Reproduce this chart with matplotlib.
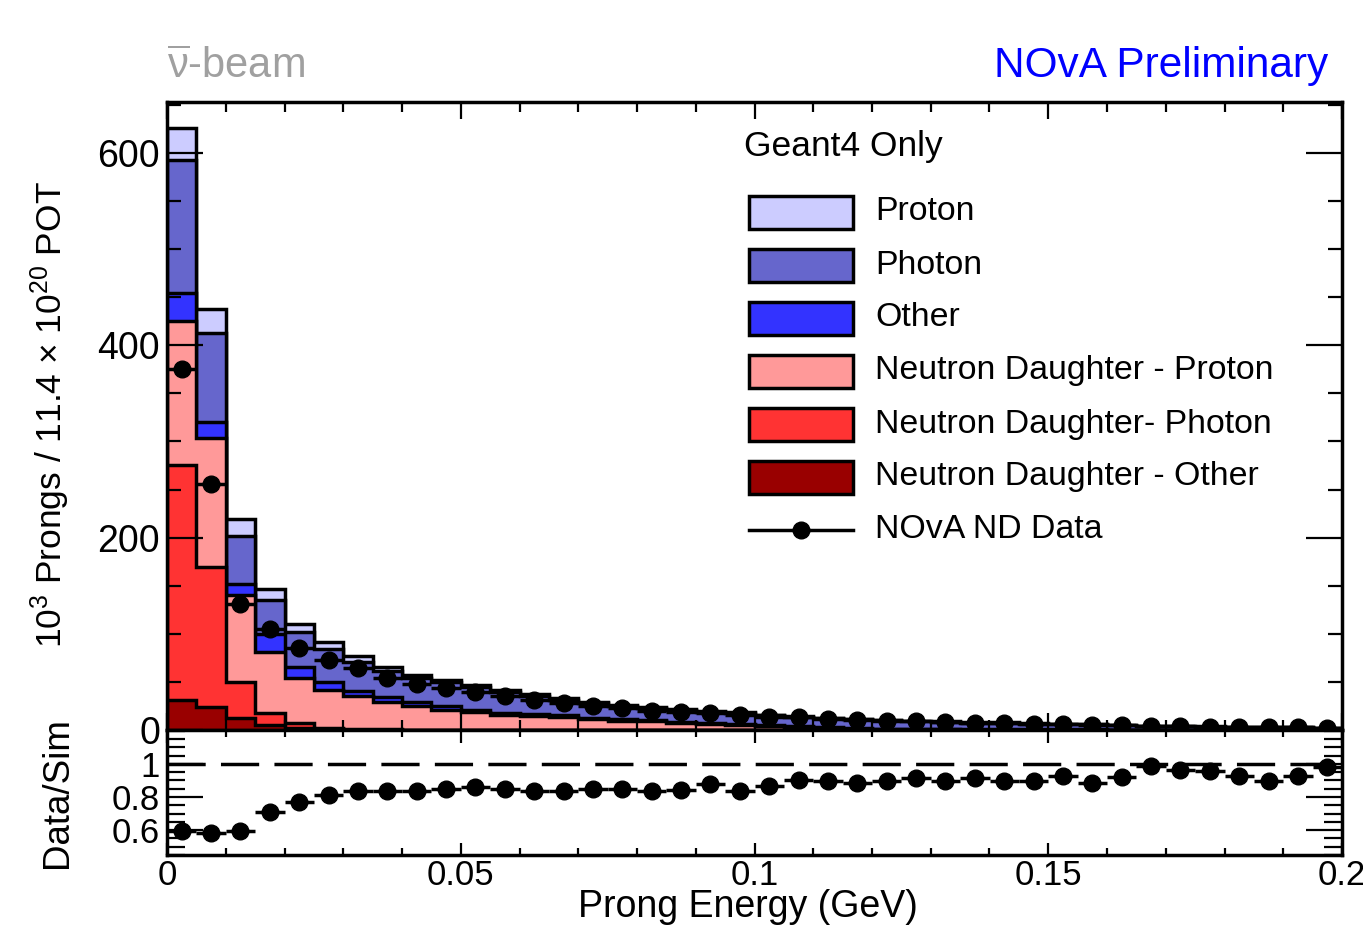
import numpy as np
import matplotlib
matplotlib.use("Agg")
import matplotlib.pyplot as plt
from matplotlib.ticker import MultipleLocator, FixedLocator, FormatStrFormatter
from matplotlib.patches import Rectangle
from matplotlib.lines import Line2D

plt.rcParams['font.family'] = ['Liberation Sans', 'DejaVu Sans']
plt.rcParams['mathtext.fontset'] = 'custom'
plt.rcParams['mathtext.rm'] = 'Liberation Sans'
plt.rcParams['mathtext.it'] = 'Liberation Sans:italic'
plt.rcParams['mathtext.bf'] = 'Liberation Sans:bold'
plt.rcParams['mathtext.sf'] = 'Liberation Sans'

# ---------------- data ----------------
bin_edges = np.linspace(0.0, 0.2, 41)

nd_other = [31, 24, 12, 4.7, 2, 1, 0.5, 0.3, 0.2, 0.1, 0.1, 0.1, 0.1, 0.1, 0.1, 0.1, 0.1, 0.05, 0.05,
            0, 0, 0, 0, 0, 0, 0, 0, 0, 0, 0, 0, 0, 0, 0, 0, 0, 0, 0, 0, 0]
nd_photon = [245, 146, 38, 13.3, 5, 1.5, 0.7, 0.3, 0.2, 0.2, 0.1, 0.1, 0.1, 0.1, 0.1, 0.1, 0.05, 0.05,
             0, 0, 0, 0, 0, 0, 0, 0, 0, 0, 0, 0, 0, 0, 0, 0, 0, 0, 0, 0, 0, 0]
nd_proton = [149, 134, 90, 63, 47.5, 39.5, 34.3, 28.9, 24.6, 21, 18.3, 15.8, 14.8, 13.4, 11.3, 9.6, 8.85, 7.2,
             6.0, 5.0, 4.0, 3.0, 2.2, 1.5, 1.0, 0.8, 0.6, 0.5, 0.4, 0.35, 0.3, 0.25, 0.2, 0.2, 0.15, 0.15,
             0.1, 0.1, 0.1, 0.1]
other = [29, 16, 12, 19, 11.5, 8, 5.5, 5, 4, 3.2, 2.5, 2, 1.8, 1.6, 1.4, 1.3, 1.2, 1.1,
         1.0, 0.9, 0.8, 0.7, 0.6, 0.6, 0.5, 0.5, 0.4, 0.4, 0.35, 0.3, 0.3, 0.3, 0.25, 0.2, 0.2, 0.2,
         0.2, 0.15, 0.15, 0.15]
photon = [139, 93, 50, 35, 36, 34, 30, 26.5, 25, 25, 23.3, 21.5, 18.4, 16.2, 15.1, 14, 12.6, 12.2,
          12.0, 11.9, 10.5, 10.0, 9.5, 9.1, 8.7, 8.0, 7.5, 6.8, 6.7, 6.05, 5.5, 5.25, 4.6, 3.8, 3.5, 3.1,
          2.95, 2.85, 2.4, 2.05]
proton = [33, 25, 17, 12, 8, 7, 6, 4, 3, 2.5, 2.2, 2, 1.8, 1.6, 1.5, 1.4, 1.2, 1.1,
          1.0, 0.9, 0.8, 0.7, 0.6, 0.6, 0.5, 0.5, 0.4, 0.4, 0.35, 0.3, 0.3, 0.3, 0.25, 0.2, 0.2, 0.2,
          0.2, 0.15, 0.15, 0.15]
nd_data = [375, 256, 131, 105, 85, 73, 64, 54.5, 47.5, 44, 40, 35, 31, 27.8, 25, 22.5, 20, 19, 17.5, 15.6,
           14.0, 13.0, 11.6, 10.5, 9.6, 9.0, 8.0, 7.4, 7.0, 6.3, 5.9, 5.4, 4.9, 4.4, 3.9, 3.5, 3.2, 2.9,
           2.6, 2.4]
ratio = [0.596, 0.584, 0.594, 0.707, 0.768, 0.815, 0.836, 0.836, 0.836, 0.846,
         0.860, 0.846, 0.836, 0.836, 0.846, 0.846, 0.836, 0.844, 0.877, 0.836,
         0.867, 0.900, 0.897, 0.887, 0.897, 0.918, 0.897, 0.918, 0.897, 0.897,
         0.928, 0.887, 0.922, 0.990, 0.963, 0.955, 0.928, 0.897, 0.928, 0.980]

layer_names = ["Neutron Daughter - Other", "Neutron Daughter- Photon", "Neutron Daughter - Proton",
               "Other", "Photon", "Proton"]
layer_colors = ["#990000", "#ff3333", "#ff9999", "#3333ff", "#6666cc", "#ccccff"]
layers = [nd_other, nd_photon, nd_proton, other, photon, proton]

# ---------------- figure ----------------
W, H = 1363, 925
fig = plt.figure(figsize=(W / 100, H / 100), dpi=100)


def fx(p):
    return p / W


def fy(p):
    return 1 - p / H


LW = 2.5
MS = 12
ax = fig.add_axes([fx(167), fy(730), (1342 - 167) / W, (730 - 102) / H])
axr = fig.add_axes([fx(167), fy(855), (1342 - 167) / W, (855 - 730) / H])

centers = 0.5 * (bin_edges[:-1] + bin_edges[1:])
half = 0.5 * (bin_edges[1] - bin_edges[0])

cum = np.cumsum(np.array(layers, dtype=float), axis=0)
for i in reversed(range(len(layers))):
    ax.stairs(cum[i], bin_edges, baseline=0, fill=True, facecolor=layer_colors[i],
              edgecolor='black', linewidth=LW, zorder=1)

ax.errorbar(centers, nd_data, xerr=half, fmt='o', color='black', ms=MS,
            elinewidth=LW, capsize=0, zorder=5)

ax.set_xlim(0, 0.2)
ax.set_ylim(0, 653)
ax.xaxis.set_major_locator(MultipleLocator(0.05))
ax.xaxis.set_minor_locator(MultipleLocator(0.01))
ax.yaxis.set_major_locator(MultipleLocator(200))
ax.yaxis.set_minor_locator(MultipleLocator(50))
ax.tick_params(axis='x', which='both', direction='in', top=True, bottom=True, labelbottom=False)
ax.tick_params(axis='x', which='major', length=12, width=1.6)
ax.tick_params(axis='x', which='minor', length=7, width=1.6)
ax.tick_params(axis='y', which='both', direction='in', left=True, right=True)
ax.tick_params(axis='y', which='major', length=26, width=1.6, labelsize=27, pad=5)
ax.tick_params(axis='y', which='minor', length=10, width=1.6)
for s in ax.spines.values():
    s.set_linewidth(LW)

# ratio panel
axr.axhline(1.0, color='black', lw=LW, ls=(0, (11, 4.4)), zorder=2)
axr.errorbar(centers, ratio, xerr=half, fmt='o', color='black', ms=MS,
             elinewidth=LW, capsize=0, zorder=5)
axr.set_xlim(0, 0.2)
axr.set_ylim(0.45, 1.205)
axr.xaxis.set_major_locator(MultipleLocator(0.05))
axr.xaxis.set_minor_locator(MultipleLocator(0.01))
axr.xaxis.set_major_formatter(FormatStrFormatter('%g'))
axr.yaxis.set_major_locator(FixedLocator([0.6, 0.8, 1.0]))
axr.yaxis.set_minor_locator(MultipleLocator(0.05))
axr.yaxis.set_major_formatter(FormatStrFormatter('%g'))
axr.tick_params(axis='x', which='both', direction='in', top=True, bottom=True, labelsize=25, pad=3)
axr.tick_params(axis='x', which='major', length=9, width=1.6)
axr.tick_params(axis='x', which='minor', length=5, width=1.6)
axr.tick_params(axis='y', which='both', direction='in', left=True, right=True, labelsize=25, pad=5)
axr.tick_params(axis='y', which='major', length=26, width=1.6)
axr.tick_params(axis='y', which='minor', length=13, width=1.6)
for s in axr.spines.values():
    s.set_linewidth(LW)

# ---------------- texts ----------------
fig.text(fx(167), fy(67), r'$\overline{\mathrm{\nu}}$-beam', color='#a0a0a0', fontsize=30,
         ha='left', va='center')
fig.text(fx(1328), fy(66), 'NOvA Preliminary', color='#0000ff', fontsize=30.5,
         ha='right', va='center')
fig.text(fx(50), fy(415), r'$10^{3}$ Prongs / 11.4 $\times$ $10^{20}$ POT', fontsize=25.5,
         rotation=90, ha='center', va='center')
fig.text(fx(58), fy(793), 'Data/Sim', fontsize=26.5, rotation=90, ha='center', va='center')
fig.text(fx(748), fy(907), 'Prong Energy (GeV)', fontsize=27, ha='center', va='center')

# ---------------- legend ----------------
fig.text(fx(744), fy(147), 'Geant4 Only', fontsize=25.5, ha='left', va='center')
row_y = [212, 265, 318, 371, 424, 477]
legend_order = [5, 4, 3, 2, 1, 0]
for yc, idx in zip(row_y, legend_order):
    fig.add_artist(Rectangle((fx(749), fy(yc + 16.5)), (853 - 749) / W, 33 / H,
                             transform=fig.transFigure, facecolor=layer_colors[idx],
                             edgecolor='black', linewidth=LW))
    fig.text(fx(875), fy(yc), layer_names[idx], fontsize=24.4, ha='left', va='center')
fig.add_artist(Line2D([fx(749), fx(853)], [fy(530), fy(530)], transform=fig.transFigure,
                      color='black', lw=LW))
fig.add_artist(Line2D([fx(801)], [fy(530)], transform=fig.transFigure, marker='o',
                      color='black', ms=MS))
fig.text(fx(875), fy(530), 'NOvA ND Data', fontsize=24.4, ha='left', va='center')

fig.savefig('out.png', dpi=100)
